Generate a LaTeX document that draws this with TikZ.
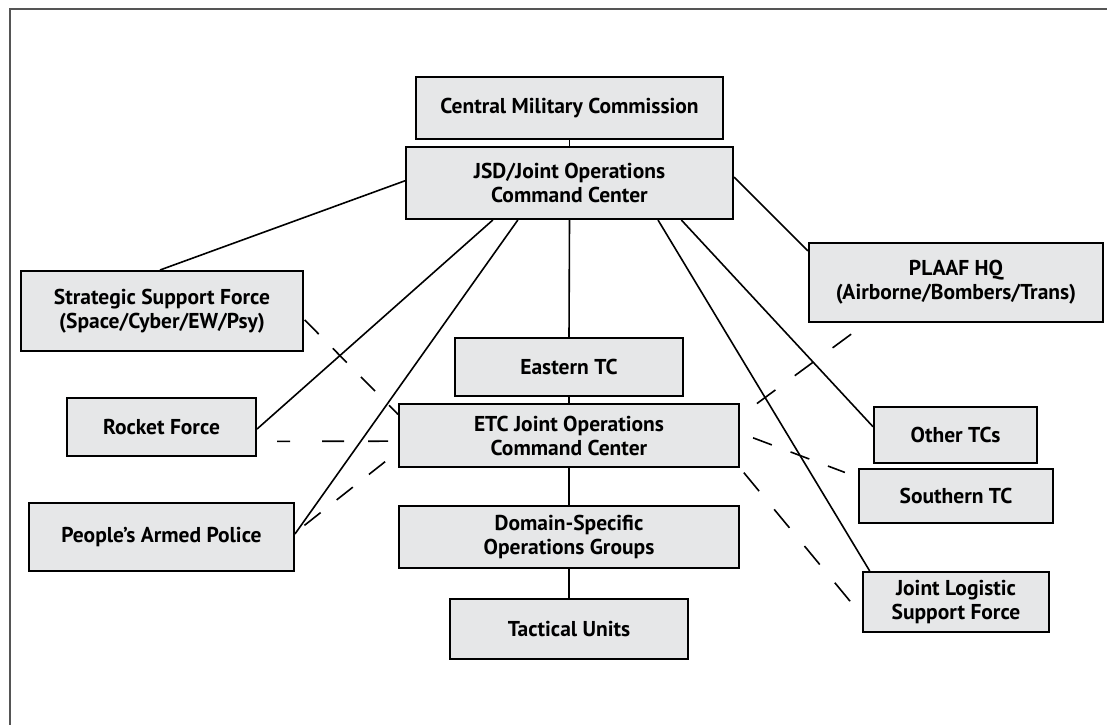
\documentclass[tikz,border=0pt]{standalone}
\usepackage{fontspec}
\setmainfont{PT Sans}
\usetikzlibrary{calc}
\definecolor{boxfill}{HTML}{E6E7E8}
\definecolor{framegray}{HTML}{555555}
\tikzset{
  box/.style={draw=black, line width=2pt, fill=boxfill, align=center, inner sep=2pt,
    font=\fontsize{21.5}{24}\selectfont\bfseries},
  link/.style={line width=1.6pt, black},
  dlink/.style={line width=1.6pt, black, dash pattern=on 20pt off 20pt},
}
\begin{document}
\begin{tikzpicture}[x=1pt,y=-1pt]
\useasboundingbox (0,0) rectangle (1107,724);
% outer frame
\draw[framegray, line width=2.5pt] (10,730) -- (10,9) -- (1115,9);

% nodes
\node[box, minimum width=307pt, minimum height=62pt] (cmc) at (569.5,108) {Central Military Commission};
\node[box, minimum width=327pt, minimum height=72pt] (jsd) at (569.5,183) {JSD/Joint Operations\\Command Center};
\node[box, minimum width=282pt, minimum height=80pt] (ssf) at (162,311) {Strategic Support Force\\(Space/Cyber/EW/Psy)};
\node[box, minimum width=189pt, minimum height=58pt] (rf) at (161.5,427) {Rocket Force};
\node[box, minimum width=265pt, minimum height=68pt] (pap) at (161.5,537) {People’s Armed Police};
\node[box, minimum width=228pt, minimum height=58pt] (etc) at (569,367) {Eastern TC};
\node[box, minimum width=340pt, minimum height=63pt] (etcj) at (569,435.5) {ETC Joint Operations\\Command Center};
\node[box, minimum width=340pt, minimum height=62pt] (dom) at (569,537) {Domain-Specific\\Operations Groups};
\node[box, minimum width=238pt, minimum height=60pt] (tac) at (569,629) {Tactical Units};
\node[box, minimum width=294pt, minimum height=79pt] (plaaf) at (956,282.5) {PLAAF HQ\\(Airborne/Bombers/Trans)};
\node[box, minimum width=163pt, minimum height=56pt] (other) at (955.5,435) {Other TCs};
\node[box, minimum width=194pt, minimum height=54pt] (south) at (956,496) {Southern TC};
\node[box, minimum width=186pt, minimum height=60pt] (jlsf) at (956,602) {Joint Logistic\\Support Force};

% vertical chain
\draw[link] (cmc.south) -- (jsd.north);
\draw[link] (jsd.south) -- (etc.north);
\draw[link] (etc.south) -- (etcj.north);
\draw[link] (etcj.south) -- (dom.north);
\draw[link] (dom.south) -- (tac.north);

% solid links from JSD
\draw[link] ($(jsd.north west)!0.47!(jsd.south west)$) -- ($(ssf.north west)!0.493!(ssf.north east)$);
\draw[link] ($(jsd.south west)!0.267!(jsd.south east)$) -- ($(rf.north east)!0.534!(rf.south east)$);
\draw[link] ($(jsd.south west)!0.343!(jsd.south east)$) -- ($(pap.north east)!0.456!(pap.south east)$);
\draw[link] ($(jsd.south west)!0.769!(jsd.south east)$) -- ($(jlsf.north west)!0.041!(jlsf.north east)$);
\draw[link] ($(jsd.south west)!0.840!(jsd.south east)$) -- ($(other.north west)!0.357!(other.south west)$);
\draw[link] ($(jsd.north east)!0.42!(jsd.south east)$) -- ($(plaaf.north west)!0.11!(plaaf.south west)$);

% dashed links to ETC JOCC
\draw[dlink, shorten <=1pt] ($(ssf.north east)!0.6!(ssf.south east)$) -- ($(etcj.north west)!0.175!(etcj.south west)$);
\draw[link, dash pattern={on 13pt off 32pt on 22pt off 24pt on 22pt off 24pt}, shorten <=20pt, shorten >=10pt]
  ($(rf.north east)!0.74!(rf.south east)$) -- ($(etcj.north west)!0.587!(etcj.south west)$);
\draw[link, dash pattern=on 20.6pt off 20.5pt, shorten <=12pt] ($(pap.north east)!0.44!(pap.south east)$) -- ($(etcj.north west)!0.746!(etcj.south west)$);
\draw[link, dash pattern=on 23pt off 24pt, shorten <=21pt, shorten >=18pt] ($(etcj.north east)!0.2!(etcj.south east)$) -- ($(plaaf.south west)!0.197!(plaaf.south east)$);
\draw[link, dash pattern=on 20pt off 20pt, shorten <=14pt, shorten >=14pt] ($(etcj.north east)!0.46!(etcj.south east)$) -- ($(south.north west)!0.167!(south.south west)$);
\draw[link, dash pattern=on 24pt off 23.6pt, shorten <=6pt, shorten >=13pt] (etcj.south east) -- ($(jlsf.north west)!0.72!(jlsf.south west)$);
\end{tikzpicture}
\end{document}
